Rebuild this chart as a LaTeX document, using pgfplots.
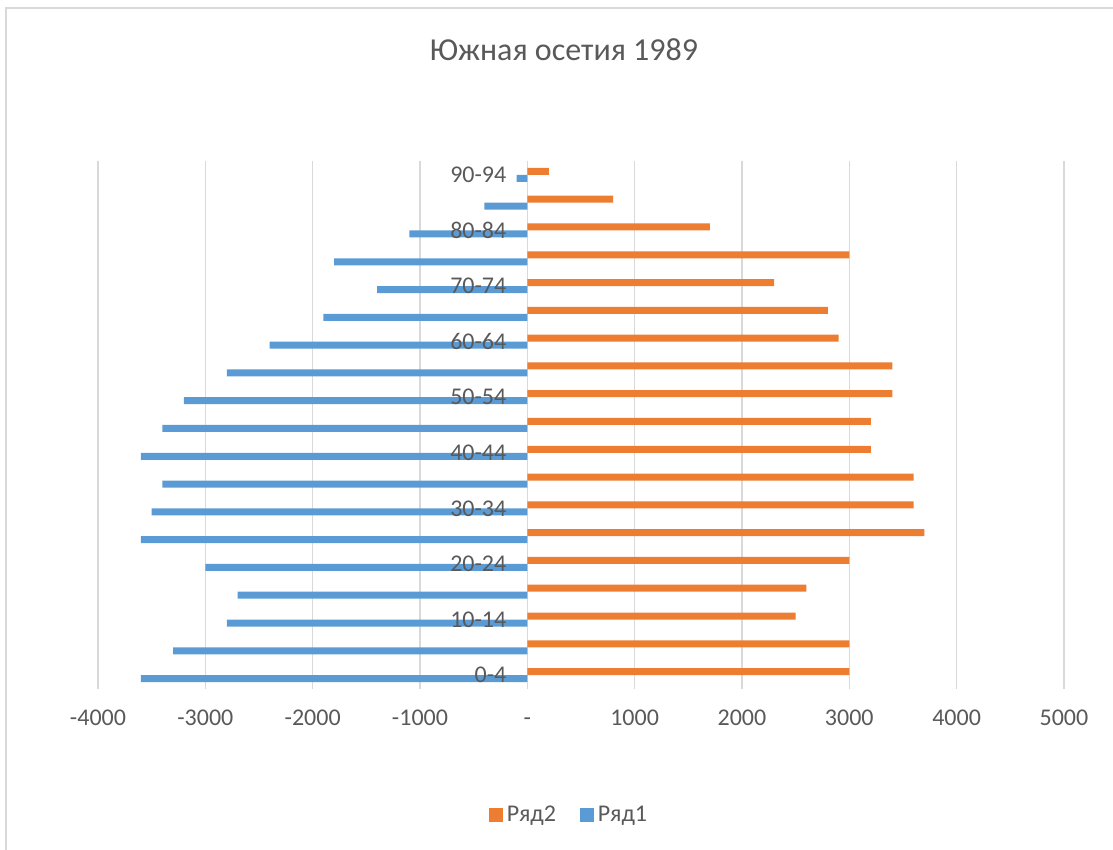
\documentclass[border=0pt]{standalone}
\usepackage{fontspec}
\setmainfont{Carlito}
\usepackage{pgfplots}
\pgfplotsset{compat=1.18}
\definecolor{txt}{HTML}{595959}
\definecolor{grd}{HTML}{D9D9D9}
\definecolor{cblue}{HTML}{5B9BD5}
\definecolor{corange}{HTML}{ED7D31}
\begin{document}
\begin{tikzpicture}
\path[use as bounding box] (-49pt,-80.5pt) rectangle (507.5pt,344.5pt);
\draw[grd, line width=0.75pt] (-46pt,-80.5pt) -- (-46pt,340.5pt) -- (507.5pt,340.5pt);
\begin{axis}[
  scale only axis, width=483pt, height=264pt,
  at={(0,0)}, anchor=south west,
  xmin=-4000, xmax=5000, ymin=-0.5, ymax=18.5,
  xbar, bar width=3.5pt,
  xtick={-4000,-3000,-2000,-1000,0,1000,2000,3000,4000,5000},
  xticklabels={-4000,-3000,-2000,-1000,{\vphantom{0}-},1000,2000,3000,4000,5000},
  ytick=\empty,
  xmajorgrids, grid style={grd, line width=0.75pt},
  axis line style={draw=none},
  major tick length=0pt,
  tick label style={font=\fontsize{12}{14}\selectfont, text=txt},
  xticklabel style={yshift=-7pt},
  legend style={at={(0.4886,-0.2386)}, anchor=center, draw=none, fill=none,
    font=\fontsize{12}{14}\selectfont, text=txt,
    /tikz/every even column/.append style={column sep=10pt}},
  legend columns=-1,
  legend image code/.code={\fill[#1] (0pt,-3.5pt) rectangle (7pt,3.5pt);},
]
\addplot[fill=corange, draw=none, bar shift=1.75pt] coordinates {
(3000,0) (3000,1) (2500,2) (2600,3) (3000,4) (3700,5) (3600,6) (3600,7) (3200,8) (3200,9)
(3400,10) (3400,11) (2900,12) (2800,13) (2300,14) (3000,15) (1700,16) (800,17) (200,18)};
\addplot[fill=cblue, draw=none, bar shift=-1.75pt] coordinates {
(-3600,0) (-3300,1) (-2800,2) (-2700,3) (-3000,4) (-3600,5) (-3500,6) (-3400,7) (-3600,8) (-3400,9)
(-3200,10) (-2800,11) (-2400,12) (-1900,13) (-1400,14) (-1800,15) (-1100,16) (-400,17) (-100,18)};
\legend{Ряд2, Ряд1}
\foreach \yy/\lab in {0/0-4,2/10-14,4/20-24,6/30-34,8/40-44,10/50-54,12/60-64,14/70-74,16/80-84,18/90-94}{
  \edef\temp{\noexpand\node[anchor=east, xshift=-7pt, font=\noexpand\fontsize{12}{14}\noexpand\selectfont, text=txt] at (axis cs:0,\yy) {\lab};}
  \temp
}
\end{axis}
\node[font=\fontsize{16}{19}\selectfont, text=txt] at (233pt,319.5pt) {Южная осетия 1989};
\end{tikzpicture}
\end{document}
